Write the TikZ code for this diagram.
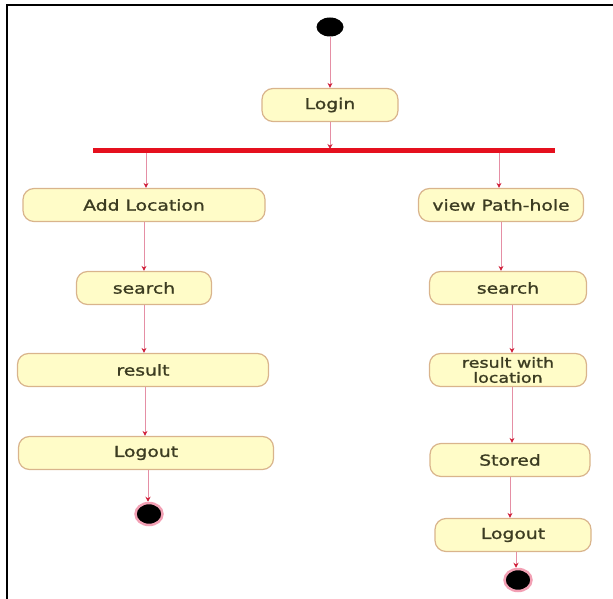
\documentclass[tikz,border=0pt]{standalone}
\usepackage{fontspec}
\setmainfont{DejaVu Sans}[FakeStretch=1.25,FakeBold=1.3]
\usetikzlibrary{arrows.meta,shapes.geometric}
\definecolor{actfill}{HTML}{FFFCC8}
\definecolor{actdraw}{HTML}{D9B48C}
\definecolor{flow}{HTML}{E58FA5}
\definecolor{tip}{HTML}{D0203A}
\definecolor{barred}{HTML}{E5101E}
\definecolor{ring}{HTML}{F2A0B4}
\definecolor{txt}{HTML}{3C3C22}
\tikzset{
  act/.style={draw=actdraw, line width=1.2pt, fill=actfill, rounded corners=11pt,
    minimum height=33pt, inner sep=1pt, text=txt, font=\fontsize{15}{15}\selectfont, align=center},
  arr/.style={draw=flow, line width=1pt, -{Stealth[length=5pt,width=5pt,color=tip]}},
  startdot/.style={ellipse, fill=black, minimum width=27pt, minimum height=19pt, inner sep=0pt},
  enddot/.style={ellipse, fill=black, draw=ring, line width=2.5pt, minimum width=27pt, minimum height=22pt, inner sep=0pt},
  frameline/.style={draw=black, line width=2.5pt}
}
\begin{document}
\begin{tikzpicture}[x=1pt,y=-1pt]
\useasboundingbox (0,0) rectangle (613,599);
\draw[frameline] (7,599) -- (7,5) -- (613,5);
\node[startdot] (start) at (330,27) {};
\node[act, minimum width=136pt] (login) at (330,105) {Login};
\coordinate (barL) at (93,151);
\coordinate (barR) at (555,151);
\draw[barred, line width=5pt] (barL) -- (barR);
\coordinate (barmid) at (330,149);
\node[act, minimum width=242pt] (addloc) at (144,205) {Add Location};
\node[act, minimum width=165pt] (viewph) at (501,205) {view Path-hole};
\node[act, minimum width=135pt] (searchL) at (144,288) {search};
\node[act, minimum width=157pt] (searchR) at (508,288) {search};
\node[act, minimum width=251pt] (resultL) at (143,370) {result};
\node[act, minimum width=157pt, font=\fontsize{14}{15}\selectfont] (resultR) at (508,370) {result with\\location};
\node[act, minimum width=255pt] (logoutL) at (146,453) {Logout};
\node[act, minimum width=160pt] (stored) at (510,460) {Stored};
\node[act, minimum width=156pt] (logoutR) at (513,535) {Logout};
\node[enddot] (endL) at (149,514) {};
\node[enddot] (endR) at (518,580) {};
\coordinate (fa) at (146,153);
\coordinate (fb) at (499,153);
\draw[arr] (start) -- (login);
\draw[arr] (login) -- (barmid);
\draw[arr] (fa) -- (fa |- addloc.north);
\draw[arr] (fb) -- (fb |- viewph.north);
\draw[arr] (addloc.south) -- (addloc.south |- searchL.north);
\draw[arr] (searchL.south) -- (searchL.south |- resultL.north);
\draw[arr] ([xshift=2pt]resultL.south) -- ([xshift=2pt]resultL.south |- logoutL.north);
\draw[arr] ([xshift=2pt]logoutL.south) -- ([xshift=2pt]logoutL.south |- endL.north);
\draw[arr] (viewph.south) -- (viewph.south |- searchR.north);
\draw[arr] ([xshift=4pt]searchR.south) -- ([xshift=4pt]searchR.south |- resultR.north);
\draw[arr] ([xshift=4pt]resultR.south) -- ([xshift=4pt]resultR.south |- stored.north);
\draw[arr] (stored.south) -- (stored.south |- logoutR.north);
\draw[arr] ([xshift=3pt]logoutR.south) -- ([xshift=3pt]logoutR.south |- endR.north);
\end{tikzpicture}
\end{document}
